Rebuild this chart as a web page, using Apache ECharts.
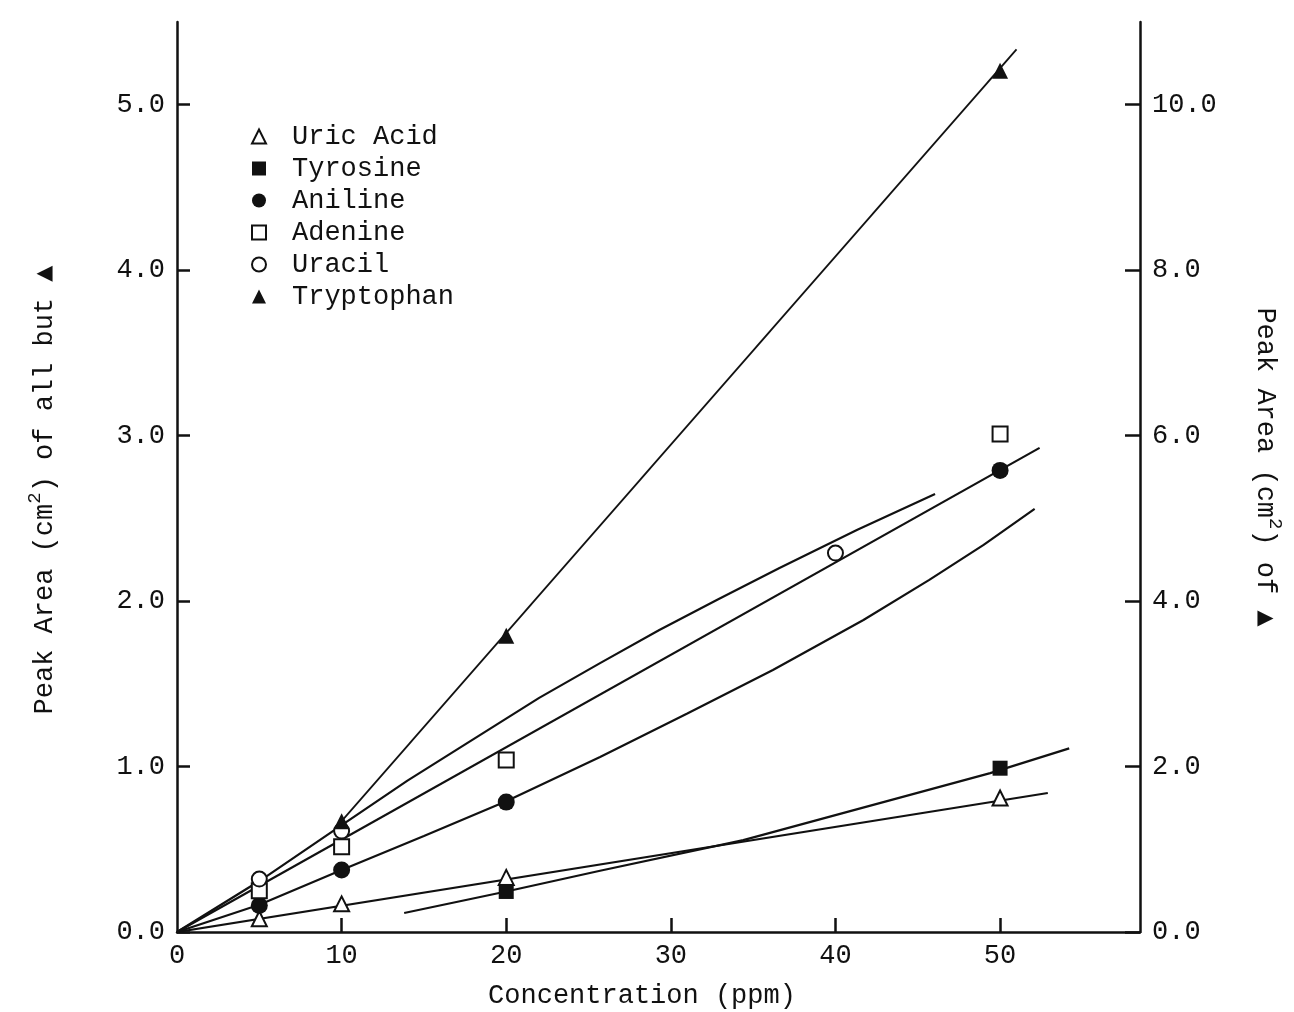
<!DOCTYPE html>
<html><head><meta charset="utf-8">
<script src="https://cdn.jsdelivr.net/npm/echarts@6/dist/echarts.min.js"></script>
<style>html,body{margin:0;padding:0;background:#fff}#c{width:1294px;height:1012px}</style>
</head><body><div id="c"></div>
<script>
const FONT = '"Liberation Mono","Courier New",monospace';
const INK = '#111';
const FS = 27;

// ---- measured points (concentration ppm, peak area cm^2) ----
const uricX = [5, 10, 20, 50];      const uricY = [0.08, 0.17, 0.33, 0.81];
const tyrX  = [20, 50];             const tyrY  = [0.245, 0.99];
const anilX = [5, 10, 20, 50];      const anilY = [0.16, 0.375, 0.785, 2.79];
const adenX = [5, 10, 20, 50];      const adenY = [0.25, 0.515, 1.04, 3.01];
const uracX = [5, 10, 40];          const uracY = [0.32, 0.61, 2.29];
const trypX = [10, 20, 50];         const trypY = [1.34, 3.58, 10.41];   // right axis

// ---- hand-drawn fitted lines ----
const fitUricX = [0, 52.9];                     const fitUricY = [0, 0.84];
const fitTyrX  = [13.8, 20, 25.7, 34.4, 49.4, 54.2];  const fitTyrY  = [0.115, 0.245, 0.37, 0.555, 0.96, 1.11];
const fitLowX  = [0, 5, 10, 15, 20, 25.7, 31, 36.2, 41.7, 45.7, 49, 52.1];
const fitLowY  = [0, 0.165, 0.375, 0.58, 0.79, 1.058, 1.32, 1.584, 1.886, 2.128, 2.34, 2.557];
const fitMidX  = [0, 52.4];                     const fitMidY  = [0, 2.926];
const fitUpX   = [0, 5.1, 9.85, 14, 18.4, 22, 25.7, 29.3, 32.85, 36.6, 41.3, 46.05];
const fitUpY   = [0, 0.314, 0.635, 0.915, 1.19, 1.415, 1.625, 1.825, 2.01, 2.2, 2.43, 2.648];
const fitTrypX = [10, 51.0];                    const fitTrypY = [1.34, 10.67];   // right axis

// ---- ticks / labels ----
const xLabels = [0, 10, 20, 30, 40, 50];
const xTickMarks = [10, 20, 30, 40, 50];
const leftTicks = [0, 1, 2, 3, 4, 5];
const rightTicks = [0, 2, 4, 6, 8, 10];
const legendNames = ['Uric Acid', 'Tyrosine', 'Aniline', 'Adenine', 'Uracil', 'Tryptophan'];

const zip = (xs, ys) => xs.map((x, i) => [x, ys[i]]);

const hollow = { color: '#fff', borderColor: INK, borderWidth: 2, opacity: 1 };
const solid = { color: INK, borderColor: INK, borderWidth: 0, opacity: 1 };

function fit(xs, ys, opts) {
  return Object.assign({
    type: 'line', data: zip(xs, ys), showSymbol: false, symbol: 'none',
    lineStyle: { color: INK, width: 2.2 }, silent: true, z: 2, smooth: false
  }, opts || {});
}

const axisLine = { show: true, lineStyle: { color: INK, width: 2.5 } };
const labelStyle = { fontFamily: FONT, fontSize: FS, color: INK };

const richTitle = {
  a: { fontFamily: FONT, fontSize: FS, fill: INK, verticalAlign: 'bottom' },
  s: { fontFamily: FONT, fontSize: 19, fill: INK, verticalAlign: 'bottom', padding: [0, 0, 14, 0] },
  t: { fontFamily: 'DejaVu Sans', fontSize: 21, fill: INK, verticalAlign: 'bottom', padding: [0, 0, 3, 0] }
};

const chart = echarts.init(document.getElementById('c'), null, { renderer: 'canvas' });
chart.setOption({
  animation: false,
  backgroundColor: '#fff',
  grid: { left: 177, right: 154, top: 22, bottom: 80, containLabel: false, outerBoundsMode: 'none' },
  xAxis: {
    type: 'value', min: 0, max: 58.5, interval: 10,
    axisLine: axisLine,
    axisTick: { show: true, inside: true, length: 14, customValues: xTickMarks, lineStyle: { color: INK, width: 2.5 } },
    axisLabel: Object.assign({ customValues: xLabels, margin: 10, formatter: v => String(v) }, labelStyle),
    splitLine: { show: false }
  },
  yAxis: [{
    type: 'value', position: 'left', min: 0, max: 5.5, interval: 1,
    axisLine: axisLine,
    axisTick: { show: true, inside: true, length: 13, customValues: leftTicks, lineStyle: { color: INK, width: 2.5 } },
    axisLabel: Object.assign({ customValues: leftTicks, margin: 12, formatter: v => v.toFixed(1) }, labelStyle),
    splitLine: { show: false }
  }, {
    type: 'value', position: 'right', min: 0, max: 11, interval: 2,
    axisLine: axisLine,
    axisTick: { show: true, inside: true, length: 15, customValues: rightTicks, lineStyle: { color: INK, width: 2.5 } },
    axisLabel: Object.assign({ customValues: rightTicks, margin: 12, formatter: v => v.toFixed(1) }, labelStyle),
    splitLine: { show: false }
  }],
  legend: {
    orient: 'vertical', left: 251, top: 123, padding: 0, itemWidth: 14, itemHeight: 14, itemGap: 5,
    selectedMode: false, data: legendNames,
    textStyle: { fontFamily: FONT, fontSize: FS, color: INK, padding: [0, 0, 0, 21] }
  },
  graphic: [
    { type: 'text', x: 642, y: 996, silent: true,
      style: { text: 'Concentration (ppm)', font: FS + 'px ' + FONT, fill: INK, align: 'center', verticalAlign: 'middle' } },
    { type: 'text', x: 42, y: 490, rotation: Math.PI / 2, silent: true,
      style: { text: '{a|Peak Area (cm}{s|2}{a|) of all but }{t|▲}', fill: INK, align: 'center', verticalAlign: 'middle', rich: richTitle } },
    { type: 'text', x: 1268, y: 467, rotation: -Math.PI / 2, silent: true,
      style: { text: '{a|Peak Area (cm}{s|2}{a|) of }{t|▲}', fill: INK, align: 'center', verticalAlign: 'middle', rich: richTitle } }
  ],
  series: [
    fit(fitUricX, fitUricY),
    fit(fitTyrX, fitTyrY),
    fit(fitLowX, fitLowY),
    fit(fitMidX, fitMidY),
    fit(fitUpX, fitUpY),
    fit(fitTrypX, fitTrypY, { yAxisIndex: 1, lineStyle: { color: INK, width: 1.8 } }),
    { name: 'Uric Acid', type: 'scatter', data: zip(uricX, uricY), symbol: 'triangle', symbolSize: 15, itemStyle: hollow, z: 5 },
    { name: 'Tyrosine', type: 'scatter', data: zip(tyrX, tyrY), symbol: 'rect', symbolSize: 15, itemStyle: solid, z: 5 },
    { name: 'Aniline', type: 'scatter', data: zip(anilX, anilY), symbol: 'circle', symbolSize: 17, itemStyle: solid, z: 5 },
    { name: 'Adenine', type: 'scatter', data: zip(adenX, adenY), symbol: 'rect', symbolSize: 15, itemStyle: hollow, z: 5 },
    { name: 'Uracil', type: 'scatter', data: zip(uracX, uracY), symbol: 'circle', symbolSize: 15, itemStyle: hollow, z: 5 },
    { name: 'Tryptophan', type: 'scatter', data: zip(trypX, trypY), yAxisIndex: 1, symbol: 'triangle', symbolSize: 16, itemStyle: solid, z: 5 }
  ]
});
</script></body></html>
